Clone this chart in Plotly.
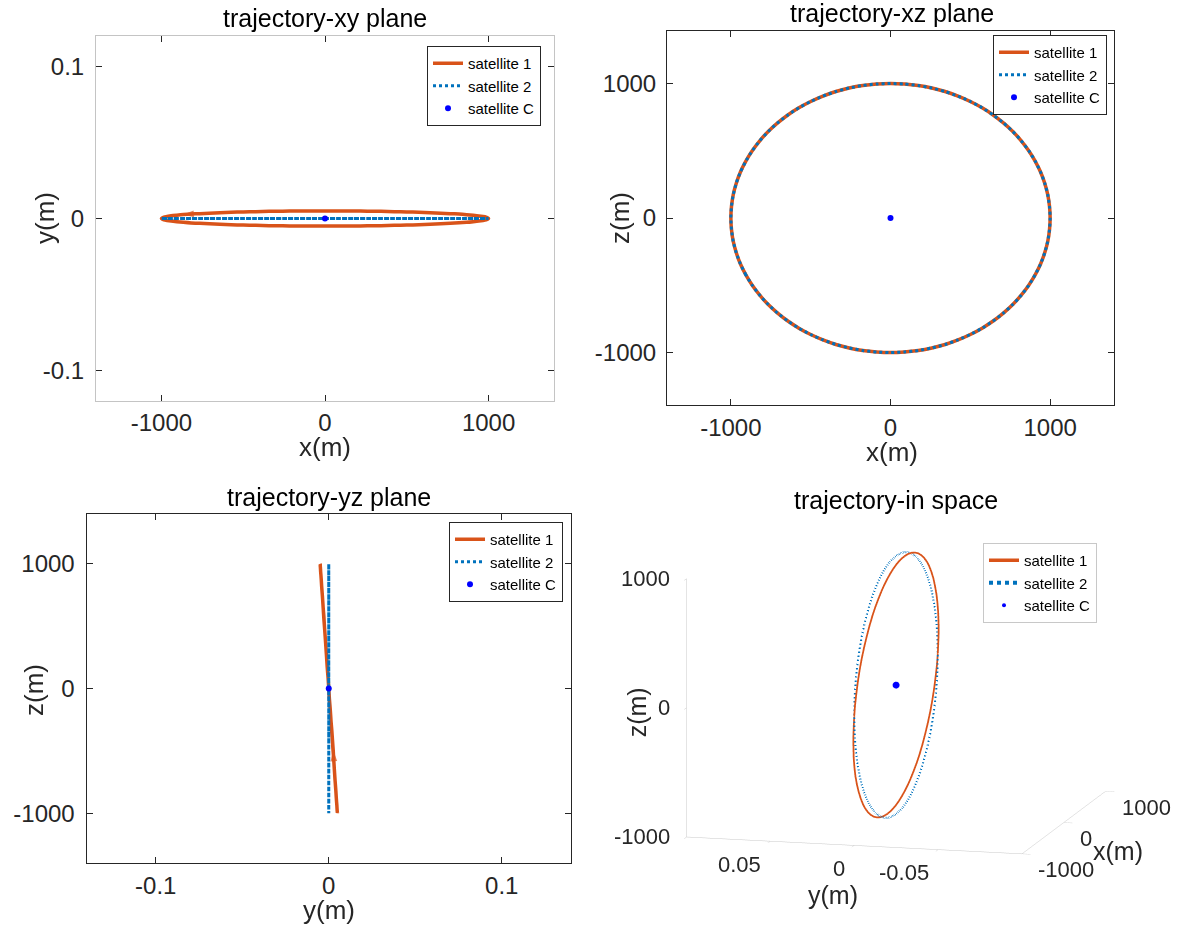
import plotly.graph_objects as go

# ---------------- data ----------------
# satellite 1 trajectory (m), starting at the arrow and running one orbit
sat1_x = [-866, -906, -940, -966, -985, -996, -1000, -996, -985, -966, -940, -906, -866,
          -819, -766, -707, -643, -574, -500, -423, -342, -259, -174, -87, 0,
          87, 174, 259, 342, 423, 500, 574, 643, 707, 766, 819, 866, 906, 940, 966, 985, 996,
          1000, 996, 985, 966, 940, 906, 866, 819, 766, 707, 643, 574, 500, 423, 342, 259,
          174, 87, 0, -87, -174, -259, -342, -423, -500, -574, -643, -707, -766, -819, -866]
sat1_z = [-500, -423, -342, -259, -174, -87, 0, 87, 174, 259, 342, 423, 500,
          574, 643, 707, 766, 819, 866, 906, 940, 966, 985, 996, 1000,
          996, 985, 966, 940, 906, 866, 819, 766, 707, 643, 574, 500, 423, 342, 259, 174, 87,
          0, -87, -174, -259, -342, -423, -500, -574, -643, -707, -766, -819, -866, -906, -940, -966,
          -985, -996, -1000, -996, -985, -966, -940, -906, -866, -819, -766, -707, -643, -574, -500]
sat1_y = [0.0026, 0.0022, 0.0018, 0.0013, 0.0009, 0.0004, 0.0000, -0.0004, -0.0009, -0.0013,
          -0.0017, -0.0021, -0.0025, -0.0029, -0.0032, -0.0035, -0.0038, -0.0041, -0.0043,
          -0.0045, -0.0047, -0.0048, -0.0049, -0.0049, -0.0050,
          -0.0049, -0.0049, -0.0048, -0.0047, -0.0045, -0.0043, -0.0041, -0.0038, -0.0035,
          -0.0032, -0.0028, -0.0025, -0.0021, -0.0017, -0.0013, -0.0009, -0.0004,
          0.0000, 0.0004, 0.0009, 0.0013, 0.0017, 0.0021, 0.0025, 0.0029, 0.0032, 0.0035,
          0.0038, 0.0041, 0.0043, 0.0045, 0.0047, 0.0048,
          0.0049, 0.0050, 0.0050, 0.0050, 0.0049, 0.0048, 0.0047, 0.0045, 0.0043, 0.0041,
          0.0038, 0.0035, 0.0032, 0.0029, 0.0026]

# satellite 2 trajectory (m): same circle, y stays at zero
sat2_x = [-866, -906, -940, -966, -985, -996, -1000, -996, -985, -966, -940, -906, -866,
          -819, -766, -707, -643, -574, -500, -423, -342, -259, -174, -87, 0,
          87, 174, 259, 342, 423, 500, 574, 643, 707, 766, 819, 866, 906, 940, 966, 985, 996,
          1000, 996, 985, 966, 940, 906, 866, 819, 766, 707, 643, 574, 500, 423, 342, 259,
          174, 87, 0, -87, -174, -259, -342, -423, -500, -574, -643, -707, -766, -819, -866]
sat2_z = [-500, -423, -342, -259, -174, -87, 0, 87, 174, 259, 342, 423, 500,
          574, 643, 707, 766, 819, 866, 906, 940, 966, 985, 996, 1000,
          996, 985, 966, 940, 906, 866, 819, 766, 707, 643, 574, 500, 423, 342, 259, 174, 87,
          0, -87, -174, -259, -342, -423, -500, -574, -643, -707, -766, -819, -866, -906, -940, -966,
          -985, -996, -1000, -996, -985, -966, -940, -906, -866, -819, -766, -707, -643, -574, -500]
sat2_y = [0.0] * len(sat2_x)

# satellite C (centre)
satC_x = [0]
satC_y = [0]
satC_z = [0]

# tick values / labels
ticks_1000 = [-1000, 0, 1000]
ticks_1000_txt = ["-1000", "0", "1000"]
ticks_01 = [-0.1, 0, 0.1]
ticks_01_txt = ["-0.1", "0", "0.1"]
ticks_005 = [-0.05, 0, 0.05]
ticks_005_txt = ["-0.05", "0", "0.05"]

assert len(sat1_x) == len(sat1_y) == len(sat1_z) == len(sat2_x) == len(sat2_z)

names = ["satellite 1", "satellite 2", "satellite C"]
titles = ["trajectory-xy plane", "trajectory-xz plane", "trajectory-yz plane", "trajectory-in space"]

# ---------------- styling ----------------
W, H = 1202, 926
FONT = "Liberation Sans, Arial, Helvetica, sans-serif"
C1 = "#D95319"
C2 = "#0072BD"
CC = "#0000FF"
TXT = "#262626"


def px_x(p):
    return p / W


def px_y(p):
    return 1 - p / H


fig = go.Figure()

panels = [
    (sat1_x, sat1_y, sat2_x, sat2_y, "x", "y", "legend", True),
    (sat1_x, sat1_z, sat2_x, sat2_z, "x2", "y2", "legend2", False),
    (sat1_y, sat1_z, sat2_y, sat2_z, "x3", "y3", "legend3", True),
]
cpairs = [(satC_x, satC_y), (satC_x, satC_z), (satC_y, satC_z)]

for (a1, b1, a2, b2, xa, ya, lg, arrow), (ca, cb) in zip(panels, cpairs):
    fig.add_trace(go.Scatter(x=a1, y=b1, mode="lines", name=names[0], xaxis=xa, yaxis=ya,
                             legend=lg, line=dict(color=C1, width=3.5, shape="spline", smoothing=0.6)))
    if arrow:
        # start-direction arrow of satellite 1
        fig.add_trace(go.Scatter(x=[a1[-2], a1[-1]], y=[b1[-2], b1[-1]], mode="markers",
                                 xaxis=xa, yaxis=ya, showlegend=False, hoverinfo="skip",
                                 marker=dict(symbol="arrow", angleref="previous", size=[0, 11],
                                             color=C1, line=dict(width=0))))
    fig.add_trace(go.Scatter(x=a2, y=b2, mode="lines", name=names[1], xaxis=xa, yaxis=ya,
                             legend=lg, line=dict(color=C2, width=3, dash="3px,3px",
                                                  shape="spline", smoothing=0.6)))
    fig.add_trace(go.Scatter(x=ca, y=cb, mode="markers", name=names[2], xaxis=xa, yaxis=ya,
                             legend=lg, marker=dict(color=CC, size=6)))

# 3D panel
fig.add_trace(go.Scatter3d(x=sat1_x, y=sat1_y, z=sat1_z, mode="lines", name=names[0],
                           scene="scene", legend="legend4", line=dict(color=C1, width=3.5)))
fig.add_trace(go.Scatter3d(x=sat2_x, y=sat2_y, z=sat2_z, mode="lines", name=names[1],
                           scene="scene", legend="legend4", line=dict(color=C2, width=4, dash="dot")))
fig.add_trace(go.Scatter3d(x=satC_x, y=satC_y, z=satC_z, mode="markers", name=names[2],
                           scene="scene", legend="legend4", marker=dict(color=CC, size=4)))

tickfont = dict(family=FONT, size=24, color=TXT)


def axis2d(domain, rng, tickvals, ticktext, linecolor, anchor, standoff):
    return dict(domain=domain, range=rng, tickvals=tickvals, ticktext=ticktext,
                showgrid=False, zeroline=False, showline=True, mirror="ticks",
                linecolor=linecolor, linewidth=1, ticks="inside", ticklen=6,
                tickcolor=TXT, tickwidth=1, tickfont=tickfont, anchor=anchor,
                ticklabelstandoff=standoff, fixedrange=True)


LIGHT = "#c4c4c4"
DARK = "#262626"

layout = dict(
    width=W, height=H, margin=dict(l=0, r=0, t=0, b=0),
    paper_bgcolor="white", plot_bgcolor="white",
    font=dict(family=FONT, color=TXT),
    xaxis=axis2d([px_x(96), px_x(554)], [-1400, 1400], ticks_1000, ticks_1000_txt, LIGHT, "y", 0),
    yaxis=axis2d([px_y(401), px_y(36)], [-0.12, 0.12], ticks_01, ticks_01_txt, LIGHT, "x", 6),
    xaxis2=axis2d([px_x(667), px_x(1114)], [-1400, 1400], ticks_1000, ticks_1000_txt, DARK, "y2", 1),
    yaxis2=axis2d([px_y(405), px_y(31)], [-1390, 1390], ticks_1000, ticks_1000_txt, DARK, "x2", 5),
    xaxis3=axis2d([px_x(86.5), px_x(571)], [-0.14, 0.14], ticks_01, ticks_01_txt, DARK, "y3", 1),
    yaxis3=axis2d([px_y(863), px_y(514)], [-1400, 1400], ticks_1000, ticks_1000_txt, DARK, "x3", 6),
)

ax3 = dict(showgrid=False, showbackground=False, zeroline=False, showline=True,
           linecolor="#c8c8c8", linewidth=1, ticks="outside", ticklen=9, tickcolor="#c8c8c8",
           showticklabels=False, showspikes=False, title=dict(text=""))
s = 1.55
ttl3 = dict(family=FONT, size=25, color=TXT)
tk3 = dict(family=FONT, size=22, color=TXT)

# 3D tick labels and axis titles, anchored to data coordinates on the drawn axis edges
scene_ann = []
for v, t in zip(ticks_1000, ticks_1000_txt):      # z axis (front-left edge)
    scene_ann.append(dict(x=-1000, y=0.1, z=v, text=t, showarrow=False, xanchor="right",
                          xshift=-14, font=tk3))
for v, t in zip(ticks_005, ticks_005_txt):        # y axis (front-bottom edge)
    scene_ann.append(dict(x=-1000, y=v, z=-1000, text=t, showarrow=False, xanchor="right",
                          xshift=-7, yshift=-23, font=tk3))
for v, t in zip(ticks_1000, ticks_1000_txt):      # x axis (right-bottom edge)
    scene_ann.append(dict(x=v, y=-0.1, z=-1000, text=t, showarrow=False, xanchor="left",
                          xshift=14, yshift=-16, font=tk3))
scene_ann += [
    dict(x=-1000, y=0.1, z=0, text="z(m)", showarrow=False, textangle=-90,
         xshift=-50, yshift=-4, font=ttl3),
    dict(x=-1000, y=0, z=-1000, text="y(m)", showarrow=False,
         xshift=-21, yshift=-50, font=ttl3),
    dict(x=0, y=-0.1, z=-1000, text="x(m)", showarrow=False,
         xshift=54, yshift=-28, font=ttl3),
]

layout["scene"] = dict(
    domain=dict(x=[px_x(600), px_x(1192)], y=[px_y(900), px_y(470)]),
    xaxis=dict(ax3, range=[-1000, 1000], tickvals=ticks_1000),
    yaxis=dict(ax3, range=[-0.1, 0.1], tickvals=ticks_005),
    zaxis=dict(ax3, range=[-1000, 1000], tickvals=ticks_1000),
    aspectmode="manual", aspectratio=dict(x=1.0 * s, y=1.04 * s, z=0.79 * s),
    camera=dict(eye=dict(x=-0.95 * 2, y=-0.246 * 2, z=0.194 * 2), up=dict(x=0, y=0, z=1),
                center=dict(x=0, y=0, z=0), projection=dict(type="orthographic")),
    bgcolor="white",
    annotations=scene_ann,
)

leg_common = dict(xanchor="right", yanchor="top", bgcolor="white", borderwidth=1,
                  font=dict(family=FONT, size=15, color="#000000"), itemwidth=30,
                  tracegroupgap=0)
layout["legend"] = dict(leg_common, x=px_x(541), y=px_y(46), bordercolor=DARK)
layout["legend2"] = dict(leg_common, x=px_x(1107), y=px_y(35), bordercolor=DARK)
layout["legend3"] = dict(leg_common, x=px_x(563), y=px_y(522), bordercolor=DARK)
layout["legend4"] = dict(leg_common, x=px_x(1097), y=px_y(543), bordercolor="#c8c8c8")

ann = []
title_pos = [(325, 18), (892, 13), (329, 497), (896, 500)]
for t, (cx, cy) in zip(titles, title_pos):
    ann.append(dict(text=t, x=px_x(cx), y=px_y(cy), xref="paper", yref="paper", showarrow=False,
                    xanchor="center", yanchor="middle", font=dict(family=FONT, size=25, color="#000000")))
axis_titles = [("x(m)", 325, 447, 0), ("y(m)", 45, 218, -90),
               ("x(m)", 892, 452, 0), ("z(m)", 620, 218, -90),
               ("y(m)", 329, 910, 0), ("z(m)", 34, 690, -90)]
for t, cx, cy, ang in axis_titles:
    ann.append(dict(text=t, x=px_x(cx), y=px_y(cy), xref="paper", yref="paper", showarrow=False,
                    xanchor="center", yanchor="middle", textangle=ang,
                    font=dict(family=FONT, size=26, color=TXT)))
layout["annotations"] = ann

fig.update_layout(**layout)
fig.write_html("out.html", post_script="document.body.style.margin='0px';",
               config={"displayModeBar": False})
